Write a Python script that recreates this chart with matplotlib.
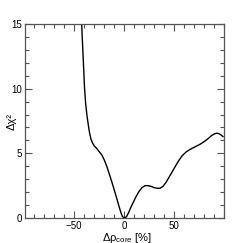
import matplotlib
matplotlib.use("Agg")
import matplotlib.pyplot as plt
from matplotlib.ticker import MultipleLocator

plt.rcParams['font.family'] = ['Liberation Sans', 'DejaVu Sans']
plt.rcParams['mathtext.fontset'] = 'custom'
plt.rcParams['mathtext.rm'] = 'Liberation Sans'
plt.rcParams['mathtext.it'] = 'Liberation Sans'

# scan of delta chi2 vs core density shift
d_rho = [-44, -42.3, -40.7, -39.5, -38.3, -37, -35.7, -34.5, -33, -31.5, -29.5, -27.5, -24.5,
         -22, -19.5, -17, -14.5, -12, -9.5, -7, -5, -3, -1.5, 0.5, 2.5, 4.5, 7, 9.5, 12,
         15, 18, 21, 24, 27, 30, 33, 36, 39, 42, 45, 48, 51, 54, 58, 62, 66, 71,
         76, 81, 85, 88, 91, 93, 95, 97, 99]
d_chi2 = [17.5, 14.9, 12.2, 10.1, 8.8, 7.9, 7.2, 6.6, 6.1, 5.8, 5.55, 5.4, 5.1,
          4.85, 4.45, 3.95, 3.35, 2.75, 2.1, 1.45, 0.9, 0.4, 0.1, 0.0, 0.1, 0.4, 0.85, 1.25, 1.65,
          2.05, 2.35, 2.5, 2.5, 2.45, 2.35, 2.3, 2.3, 2.45, 2.75, 3.15, 3.55, 3.95, 4.35, 4.8, 5.1, 5.3, 5.5,
          5.7, 5.95, 6.2, 6.4, 6.52, 6.56, 6.52, 6.42, 6.3]
x_ticks = [-50, 0, 50]
y_ticks = [0, 5, 10, 15]

fig = plt.figure(figsize=(2.49, 2.43), dpi=100)
ax = fig.add_axes([0.1004, 0.1029, 0.7992, 0.7983])
ax.plot(d_rho, d_chi2, color="black", lw=1.0)

ax.set_xlim(-99, 100)
ax.set_ylim(0, 15)
ax.set_xticks(x_ticks)
ax.set_yticks(y_ticks)
ax.xaxis.set_minor_locator(MultipleLocator(10))
ax.yaxis.set_minor_locator(MultipleLocator(1))
ax.tick_params(which="both", direction="in", top=True, right=True,
               labelsize=7, color="#555555", pad=2)
ax.tick_params(which="major", length=5, width=0.8)
ax.tick_params(which="minor", length=3, width=0.8)
for s in ax.spines.values():
    s.set_color("#555555")
    s.set_linewidth(0.9)

fig.text(127 / 249, 1 - 237.5 / 243, r"Δρ$_{\rm core}$ [%]", fontsize=8,
         ha="center", va="center")
fig.text(12 / 249, 1 - 121 / 243, "Δχ²", fontsize=8, rotation=90,
         ha="center", va="center")

fig.savefig("out.png", dpi=100)
